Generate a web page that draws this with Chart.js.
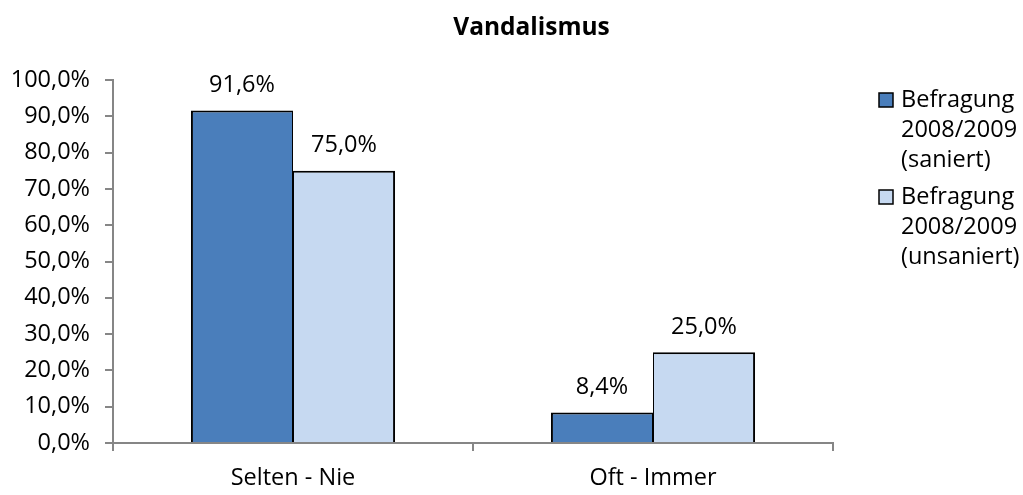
<!DOCTYPE html>
<html>
<head>
<meta charset="utf-8">
<script src="https://cdn.jsdelivr.net/npm/chart.js@4/dist/chart.umd.min.js"></script>
<style>
  html, body { margin: 0; padding: 0; background: #fff; }
  #c { display: block; }
</style>
</head>
<body>
<canvas id="c" width="1023" height="495"></canvas>
<script>
const chartTitle = 'Vandalismus';
const categories = ['Selten - Nie', 'Oft - Immer'];
const seriesNames = ['Befragung 2008/2009 (saniert)', 'Befragung 2008/2009 (unsaniert)'];
const saniert = [91.6, 8.4];
const unsaniert = [75.0, 25.0];
const yMin = 0, yMax = 100, yStep = 10;

const FONT = '"Open Sans", "Noto Sans", sans-serif';
const AXIS_GRAY = '#868686';
const fmt = v => v.toFixed(1).replace('.', ',') + '%';

const titlePlugin = {
  id: 'excelTitle',
  afterDraw(chart) {
    const ctx = chart.ctx;
    ctx.save();
    ctx.font = 'bold 24.5px ' + FONT;
    ctx.fillStyle = '#000';
    ctx.textAlign = 'center';
    ctx.textBaseline = 'middle';
    ctx.fillText(chartTitle, 531.5, 28);
    ctx.restore();
  }
};

const dataLabelPlugin = {
  id: 'dataLabels',
  afterDatasetsDraw(chart) {
    const ctx = chart.ctx;
    ctx.save();
    ctx.font = '23.5px ' + FONT;
    ctx.fillStyle = '#000';
    ctx.textAlign = 'center';
    ctx.textBaseline = 'middle';
    chart.data.datasets.forEach((ds, di) => {
      const meta = chart.getDatasetMeta(di);
      meta.data.forEach((bar, i) => {
        ctx.fillText(fmt(ds.data[i]), bar.x, bar.y - 25);
      });
    });
    ctx.restore();
  }
};

const legendPlugin = {
  id: 'wrapLegend',
  afterDraw(chart) {
    const ctx = chart.ctx;
    ctx.save();
    ctx.font = '23.5px ' + FONT;
    ctx.textAlign = 'left';
    ctx.textBaseline = 'middle';
    const x0 = 879, tx = 901, lh = 30, entryGap = 97;
    let y = 100;
    chart.data.datasets.forEach((ds) => {
      const words = ds.label.split(' ');
      ctx.fillStyle = ds.backgroundColor;
      ctx.fillRect(x0, y - 7, 14, 14);
      ctx.strokeStyle = '#000';
      ctx.lineWidth = 1.5;
      ctx.strokeRect(x0, y - 7, 14, 14);
      ctx.fillStyle = '#000';
      words.forEach((w, k) => ctx.fillText(w, tx, y + k * lh));
      y += entryGap;
    });
    ctx.restore();
  }
};

new Chart(document.getElementById('c'), {
  type: 'bar',
  data: {
    labels: categories,
    datasets: [
      {
        label: seriesNames[0],
        data: saniert,
        backgroundColor: '#4a7ebb',
        borderColor: '#000',
        borderWidth: { top: 2, left: 2, right: 1, bottom: 0 }
      },
      {
        label: seriesNames[1],
        data: unsaniert,
        backgroundColor: '#c6d9f1',
        borderColor: '#000',
        borderWidth: { top: 2, left: 1, right: 2, bottom: 0 }
      }
    ]
  },
  options: {
    responsive: false,
    devicePixelRatio: 1,
    animation: false,
    events: [],
    barPercentage: 1.0,
    categoryPercentage: 0.567,
    layout: { padding: { top: 80, right: 190, bottom: 0, left: 0 } },
    plugins: {
      legend: { display: false },
      title: { display: false },
      tooltip: { enabled: false }
    },
    scales: {
      x: {
        offset: true,
        grid: { offset: true, drawOnChartArea: false, drawTicks: true, tickLength: 8, color: AXIS_GRAY, lineWidth: 2 },
        border: { color: AXIS_GRAY, width: 2 },
        ticks: { font: { family: FONT, size: 23.5 }, color: '#000', padding: 13, maxRotation: 0 },
        afterFit: s => { s.height = 52; }
      },
      y: {
        min: yMin, max: yMax,
        grid: { drawOnChartArea: false, drawTicks: true, tickLength: 8, color: AXIS_GRAY, lineWidth: 2 },
        border: { color: AXIS_GRAY, width: 2 },
        ticks: { stepSize: yStep, font: { family: FONT, size: 23.5 }, color: '#000', padding: 15, callback: v => fmt(v) },
        afterFit: s => { s.width = 113; }
      }
    }
  },
  plugins: [titlePlugin, dataLabelPlugin, legendPlugin]
});
</script>
</body>
</html>
